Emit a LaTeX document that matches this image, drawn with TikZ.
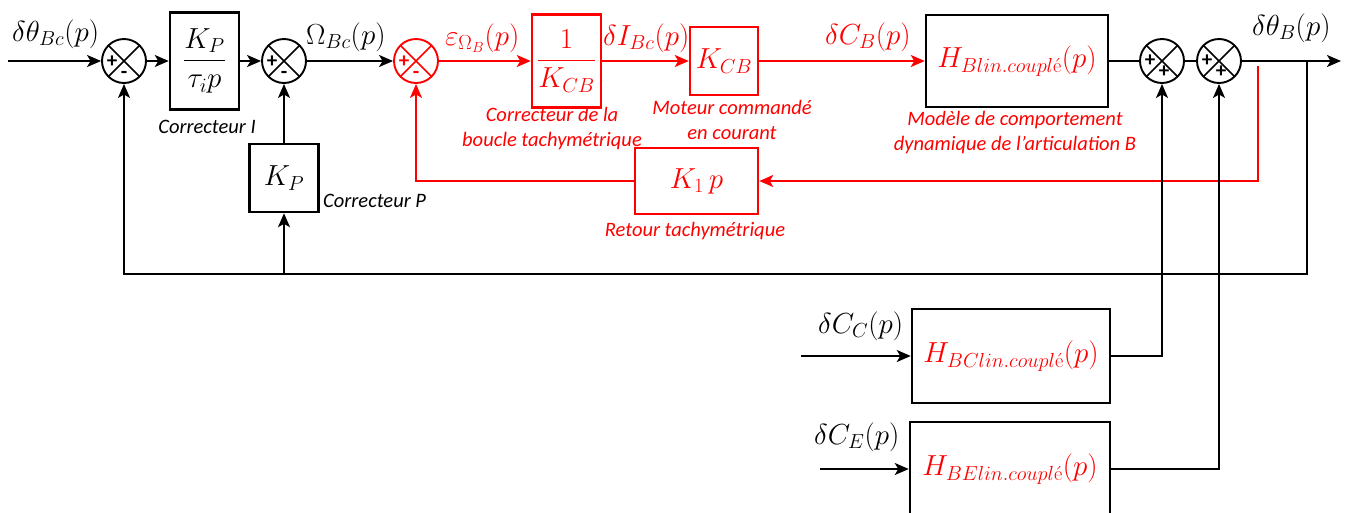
\RequirePackage{fix-cm}
\documentclass[tikz,border=0pt]{standalone}
\usepackage{amsmath}
\usepackage{fontspec}
\newfontfamily\calib{Carlito}
\usetikzlibrary{arrows.meta,calc}
\newcommand\mfs{\fontsize{29}{34}\selectfont}
\tikzset{
  sumnode/.style={circle, draw, line width=1.9pt, minimum size=44pt, inner sep=0pt,
    path picture={\draw[line width=1.7pt] (path picture bounding box.north west) -- (path picture bounding box.south east)
      (path picture bounding box.north east) -- (path picture bounding box.south west);}},
  sign/.style={font=\calib\bfseries\fontsize{21}{21}\selectfont, inner sep=0pt},
  bbox/.style={draw, line width=2.5pt, inner sep=0pt, font=\mfs},
  arr/.style={-{Stealth[length=14pt,width=12pt,inset=3.5pt]}, line width=1.9pt},
  ln/.style={line width=1.9pt},
  lab/.style={font=\mfs, inner sep=0pt, anchor=west},
  captxt/.style={font=\calib\itshape\fontsize{20.5}{25}\selectfont, inner sep=0pt, align=center},
}
\begin{document}
\begin{tikzpicture}[x=1pt,y=-1pt]
\useasboundingbox (0,0) rectangle (1351,512);
\clip (0,0) rectangle (1351,512);

% summing junctions
\node[sumnode] (s1) at (124,61) {};
\node[sign] (s1p) at ($(s1)+(-12,1)$) {+};
\node[sign] (s1m) at ($(s1)+(0,14)$) {-};
\node[sumnode] (s2) at (284,61) {};
\node[sign] (s2p) at ($(s2)+(-12,1)$) {+};
\node[sign] (s2m) at ($(s2)+(0,14)$) {-};
\node[sumnode, red] (s3) at (416,61) {};
\node[sign, red] (s3p) at ($(s3)+(-12,1)$) {+};
\node[sign, red] (s3m) at ($(s3)+(0,14)$) {-};
\node[sumnode] (s4) at (1162,61) {};
\node[sign] (s4p) at ($(s4)+(-12,0)$) {+};
\node[sign] (s4q) at ($(s4)+(2,11)$) {+};
\node[sumnode] (s5) at (1219,61) {};
\node[sign] (s5p) at ($(s5)+(-12,0)$) {+};
\node[sign] (s5q) at ($(s5)+(2,11)$) {+};

% blocks
\node[bbox, minimum width=69pt, minimum height=97pt] (ci) at (204.5,61) {$\dfrac{K_P}{\tau_i p}$};
\node[bbox, minimum width=69pt, minimum height=68pt] (kp) at (284,178) {$K_P$};
\node[bbox, red, minimum width=69pt, minimum height=93pt] (kinv) at (566.5,61) {$\dfrac{1}{K_{CB}}$};
\node[bbox, red, minimum width=68pt, minimum height=68pt] (kcb) at (724,61) {$K_{CB}$};
\node[bbox, red, minimum width=123pt, minimum height=66pt] (k1) at (696.5,181) {$K_1\,p$};
\node[bbox, minimum width=182pt, minimum height=92pt, text=red] (hb) at (1017,61) {$H_{Blin.coupl\text{é}}(p)$};
\node[bbox, minimum width=198pt, minimum height=94pt, text=red] (hbc) at (1011,356) {$H_{BClin.coupl\text{é}}(p)$};
\node[bbox, minimum width=200pt, minimum height=94pt, text=red] (hbe) at (1010,469) {$H_{BElin.coupl\text{é}}(p)$};

% captions
\node[captxt] (cI) at (207,127) {Correcteur I};
\node[captxt, anchor=west] (cP) at (323,201) {Correcteur P};
\node[captxt, red] (cT) at (552,129) {Correcteur de la\\boucle tachymétrique};
\node[captxt, red] (cM) at (732,120) {Moteur commandé\\en courant};
\node[captxt, red] (cR) at (695,231) {Retour tachymétrique};
\node[captxt, red] (cH) at (1015,133) {Modèle de comportement\\dynamique de l’articulation B};

% signal labels
\node[lab] (lin) at (12,34) {$\delta\theta_{Bc}(p)$};
\node[lab] (lom) at (306,37) {$\Omega_{Bc}(p)$};
\node[lab, red] (leps) at (445,38) {$\varepsilon_{\Omega_B}(p)$};
\node[lab, red] (ldi) at (603,38) {$\delta I_{Bc}(p)$};
\node[lab, red] (ldc) at (825,37) {$\delta C_B(p)$};
\node[lab] (lout) at (1252,28) {$\delta\theta_B(p)$};
\node[lab] (lcc) at (818,326) {$\delta C_C(p)$};
\node[lab] (lce) at (814,437) {$\delta C_E(p)$};

% coordinates
\coordinate (in) at (8,61);
\coordinate (out) at (1341,61);
\coordinate (rt) at (1258,66);
\coordinate (bt) at (1307,61);
\coordinate (bb) at (1307,274);
\coordinate (kpb) at (284,274);
\coordinate (icc) at (801,356);
\coordinate (ice) at (820,469);

% main chain
\draw[arr] (in) -- (s1.west);
\draw[arr] (s1.east) -- (ci.west);
\draw[arr] (ci.east) -- (s2.west);
\draw[arr] (kp.north) -- (s2.south);
\draw[arr] (s2.east) -- (s3.west);
\draw[arr, red] (s3.east) -- (kinv.west);
\draw[arr, red] (kinv.east) -- (kcb.west);
\draw[arr, red] (kcb.east) -- (hb.west);
\draw[ln] (hb.east) -- (s4.west);
\draw[ln] (s4.east) -- (s5.west);
\draw[arr] (s5.east) -- (out);

% feedbacks
\draw[arr, red] (rt) |- (k1.east);
\draw[arr, red] (k1.west) -| (s3.south);
\draw[arr] (bt) -- (bb) -| (s1.south);
\draw[arr] (kpb) -- (kp.south);

% disturbances
\draw[arr] (icc) -- (hbc.west);
\draw[arr] (hbc.east) -| (s4.south);
\draw[arr] (ice) -- (hbe.west);
\draw[arr] (hbe.east) -| (s5.south);
\end{tikzpicture}
\end{document}
